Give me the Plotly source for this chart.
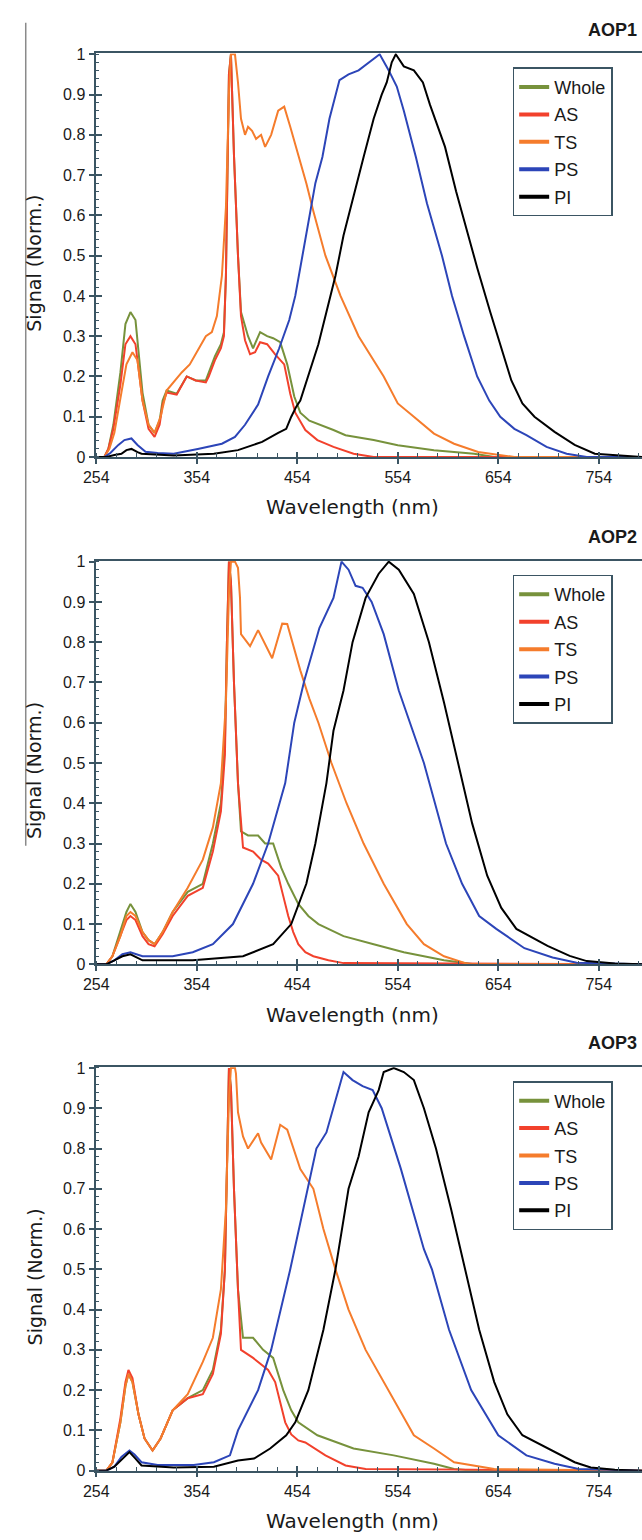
import plotly.graph_objects as go

# ---------------- data (wavelength nm, normalised signal) ----------------
# AOP1
AOP1_WHOLE_X = [254, 262, 266, 271, 278, 283, 288, 293, 300, 306, 312, 317, 320, 324, 334, 344, 353, 363, 366, 372, 378, 381, 383, 384, 386, 388, 391, 395, 398, 405, 410, 417, 424, 430, 437, 444, 451, 457, 466, 490, 502, 530, 554, 590, 630, 650, 797]
AOP1_WHOLE_Y = [0, 0, 0.02, 0.08, 0.21, 0.33, 0.36, 0.34, 0.16, 0.08, 0.06, 0.09, 0.14, 0.165, 0.157, 0.2, 0.19, 0.19, 0.21, 0.25, 0.28, 0.31, 0.45, 0.6, 0.95, 1.0, 0.75, 0.5, 0.36, 0.3, 0.27, 0.31, 0.3, 0.295, 0.285, 0.23, 0.15, 0.11, 0.09, 0.067, 0.054, 0.042, 0.029, 0.017, 0.008, 0.0, 0]
AOP1_AS_X = [254, 262, 266, 271, 278, 283, 288, 293, 300, 306, 312, 317, 320, 324, 334, 344, 353, 363, 366, 372, 378, 381, 383, 384, 386, 388, 391, 395, 398, 402, 407, 412, 417, 424, 432, 441, 447, 452, 462, 474, 490, 510, 530, 797]
AOP1_AS_Y = [0, 0, 0.02, 0.07, 0.18, 0.28, 0.30, 0.28, 0.14, 0.07, 0.05, 0.08, 0.13, 0.16, 0.155, 0.2, 0.19, 0.185, 0.2, 0.24, 0.27, 0.3, 0.45, 0.6, 0.95, 1.0, 0.75, 0.5, 0.35, 0.29, 0.255, 0.26, 0.285, 0.28, 0.255, 0.23, 0.157, 0.11, 0.067, 0.042, 0.025, 0.008, 0, 0]
AOP1_TS_X = [254, 262, 267, 272, 279, 284, 290, 295, 300, 306, 312, 318, 324, 332, 339, 347, 353, 363, 369, 374, 379, 383, 386, 388, 392, 395, 398, 402, 405, 409, 413, 418, 422, 428, 435, 441, 447, 455, 463, 470, 482, 497, 515, 540, 554, 570, 590, 610, 634, 670, 797]
AOP1_TS_Y = [0, 0, 0.02, 0.06, 0.16, 0.23, 0.26, 0.24, 0.14, 0.08, 0.06, 0.1, 0.165, 0.19, 0.21, 0.23, 0.255, 0.30, 0.31, 0.35, 0.45, 0.62, 0.9, 1.0, 1.0, 0.93, 0.84, 0.8, 0.82, 0.81, 0.79, 0.8, 0.77, 0.8, 0.86, 0.87, 0.82, 0.75, 0.68, 0.61, 0.5, 0.4, 0.3, 0.2, 0.133, 0.1, 0.058, 0.033, 0.0125, 0, 0]
AOP1_PS_X = [254, 262, 268, 276, 282, 289, 295, 303, 315, 331, 355, 370, 379, 392, 402, 415, 425, 436, 446, 452, 459, 466, 472, 479, 486, 496, 505, 515, 525, 536, 545, 553, 560, 572, 583, 598, 608, 620, 633, 645, 656, 670, 682, 702, 722, 742, 797]
AOP1_PS_Y = [0, 0, 0.01, 0.03, 0.042, 0.046, 0.03, 0.013, 0.01, 0.008, 0.02, 0.028, 0.033, 0.05, 0.08, 0.13, 0.2, 0.27, 0.34, 0.4, 0.5, 0.6, 0.68, 0.745, 0.84, 0.936, 0.95, 0.96, 0.98, 1.0, 0.96, 0.92, 0.86, 0.745, 0.63, 0.5, 0.4, 0.3, 0.2, 0.14, 0.1, 0.07, 0.054, 0.025, 0.008, 0, 0]
AOP1_PI_X = [254, 264, 272, 279, 284, 289, 295, 299, 331, 371, 395, 419, 435, 443, 448, 453, 457, 465, 475, 483, 492, 500, 510, 520, 530, 538, 543, 548, 552, 560, 570, 579, 586, 601, 612, 623, 633, 646, 657, 667, 678, 690, 710, 730, 750, 770, 797]
AOP1_PI_Y = [0, 0, 0.005, 0.008, 0.017, 0.02, 0.012, 0.008, 0.004, 0.008, 0.017, 0.0375, 0.06, 0.07, 0.1, 0.125, 0.14, 0.2, 0.28, 0.36, 0.45, 0.55, 0.65, 0.745, 0.84, 0.9, 0.93, 0.98, 1.0, 0.97, 0.96, 0.93, 0.875, 0.77, 0.66, 0.56, 0.47, 0.36, 0.27, 0.19, 0.133, 0.1, 0.0625, 0.03, 0.008, 0.004, 0]

# AOP2
AOP2_WHOLE_X = [254, 264, 270, 278, 284, 288, 293, 300, 306, 312, 320, 330, 345, 360, 370, 378, 382, 384, 386, 388, 391, 395, 398, 405, 415, 422, 430, 438, 445, 455, 465, 475, 500, 530, 560, 600, 630, 797]
AOP2_WHOLE_Y = [0, 0, 0.02, 0.08, 0.13, 0.15, 0.13, 0.08, 0.06, 0.05, 0.08, 0.13, 0.18, 0.2, 0.3, 0.4, 0.55, 0.8, 1.0, 0.95, 0.7, 0.45, 0.33, 0.32, 0.32, 0.3, 0.3, 0.24, 0.2, 0.15, 0.12, 0.1, 0.07, 0.05, 0.03, 0.01, 0.0, 0]
AOP2_AS_X = [254, 264, 270, 278, 284, 288, 293, 300, 306, 312, 320, 330, 345, 360, 370, 378, 382, 384, 386, 388, 391, 395, 400, 410, 418, 425, 435, 440, 445, 450, 455, 462, 470, 485, 500, 797]
AOP2_AS_Y = [0, 0, 0.02, 0.07, 0.11, 0.12, 0.11, 0.07, 0.05, 0.045, 0.075, 0.12, 0.17, 0.19, 0.28, 0.38, 0.52, 0.8, 1.0, 0.95, 0.7, 0.45, 0.29, 0.28, 0.26, 0.25, 0.22, 0.17, 0.12, 0.08, 0.05, 0.03, 0.02, 0.01, 0.003, 0]
AOP2_TS_X = [254, 264, 270, 278, 284, 288, 293, 300, 306, 312, 320, 330, 345, 360, 370, 378, 383, 386, 388, 392, 395, 397, 398, 407, 415, 421, 429, 439, 444, 457, 466, 475, 488, 503, 520, 540, 563, 580, 600, 625, 797]
AOP2_TS_Y = [0, 0, 0.02, 0.07, 0.12, 0.13, 0.12, 0.08, 0.06, 0.05, 0.08, 0.13, 0.19, 0.26, 0.34, 0.45, 0.65, 0.92, 1.0, 1.0, 0.985, 0.91, 0.82, 0.79, 0.83, 0.8, 0.76, 0.846, 0.845, 0.73, 0.66, 0.6, 0.5, 0.4, 0.3, 0.2, 0.1, 0.05, 0.02, 0, 0]
AOP2_PS_X = [254, 264, 272, 280, 288, 295, 300, 330, 350, 370, 390, 410, 425, 442, 451, 461, 476, 490, 498, 505, 512, 519, 528, 540, 555, 580, 602, 618, 635, 652, 680, 708, 732, 797]
AOP2_PS_Y = [0, 0, 0.01, 0.025, 0.03, 0.025, 0.02, 0.02, 0.03, 0.05, 0.1, 0.2, 0.3, 0.45, 0.6, 0.705, 0.835, 0.91, 1.0, 0.98, 0.94, 0.935, 0.9, 0.82, 0.68, 0.5, 0.3, 0.2, 0.12, 0.088, 0.04, 0.017, 0.004, 0]
AOP2_PI_X = [254, 264, 272, 280, 288, 295, 300, 350, 400, 430, 448, 463, 472, 483, 490, 500, 509, 522, 535, 545, 555, 570, 585, 600, 614, 628, 643, 657, 672, 703, 725, 742, 770, 797]
AOP2_PI_Y = [0, 0, 0.01, 0.02, 0.025, 0.015, 0.01, 0.01, 0.02, 0.05, 0.1, 0.2, 0.3, 0.45, 0.58, 0.68, 0.8, 0.91, 0.97, 1.0, 0.98, 0.92, 0.8, 0.65, 0.5, 0.35, 0.22, 0.14, 0.088, 0.046, 0.021, 0.008, 0.002, 0]

# AOP3
AOP3_WHOLE_X = [254, 264, 270, 278, 283, 286, 290, 296, 302, 310, 318, 330, 345, 360, 370, 378, 382, 384, 386, 388, 391, 395, 400, 410, 420, 430, 440, 448, 455, 474, 510, 550, 590, 610, 630, 797]
AOP3_WHOLE_Y = [0, 0, 0.02, 0.12, 0.21, 0.24, 0.22, 0.14, 0.08, 0.05, 0.08, 0.15, 0.18, 0.2, 0.25, 0.35, 0.5, 0.8, 1.0, 0.95, 0.7, 0.45, 0.33, 0.33, 0.3, 0.28, 0.2, 0.15, 0.12, 0.088, 0.055, 0.038, 0.017, 0.004, 0.0, 0]
AOP3_AS_X = [254, 264, 270, 278, 283, 286, 290, 296, 302, 310, 318, 330, 345, 360, 370, 378, 382, 384, 386, 388, 391, 395, 398, 410, 425, 432, 437, 442, 448, 455, 462, 482, 502, 522, 797]
AOP3_AS_Y = [0, 0, 0.02, 0.13, 0.22, 0.25, 0.23, 0.14, 0.08, 0.05, 0.08, 0.15, 0.18, 0.19, 0.24, 0.34, 0.5, 0.8, 1.0, 0.95, 0.7, 0.45, 0.3, 0.28, 0.25, 0.22, 0.17, 0.12, 0.09, 0.075, 0.07, 0.038, 0.013, 0.004, 0]
AOP3_TS_X = [254, 264, 270, 278, 283, 286, 290, 296, 302, 310, 318, 330, 345, 360, 370, 378, 383, 386, 388, 392, 393, 395, 400, 405, 415, 418, 428, 437, 444, 457, 470, 480, 492, 505, 522, 545, 570, 590, 610, 650, 797]
AOP3_TS_Y = [0, 0, 0.02, 0.12, 0.21, 0.24, 0.22, 0.14, 0.08, 0.05, 0.08, 0.15, 0.19, 0.27, 0.33, 0.45, 0.65, 0.92, 1.0, 1.0, 0.986, 0.89, 0.83, 0.8, 0.838, 0.815, 0.773, 0.859, 0.847, 0.749, 0.70, 0.6, 0.5, 0.4, 0.3, 0.2, 0.088, 0.055, 0.021, 0.004, 0]
AOP3_PS_X = [254, 264, 272, 279, 287, 292, 299, 315, 351, 371, 387, 391, 395, 415, 428, 447, 464, 473, 483, 490, 500, 509, 519, 529, 538, 557, 580, 588, 605, 627, 654, 682, 710, 734, 797]
AOP3_PS_Y = [0, 0, 0.01, 0.034, 0.05, 0.04, 0.021, 0.014, 0.014, 0.021, 0.038, 0.07, 0.1, 0.2, 0.3, 0.5, 0.70, 0.80, 0.84, 0.9, 0.99, 0.97, 0.955, 0.945, 0.9, 0.75, 0.55, 0.5, 0.35, 0.2, 0.088, 0.038, 0.017, 0.004, 0]
AOP3_PI_X = [254, 264, 272, 280, 287, 293, 299, 331, 371, 395, 411, 427, 443, 452, 465, 480, 492, 505, 515, 525, 535, 540, 550, 560, 570, 580, 592, 607, 621, 635, 650, 663, 678, 710, 730, 746, 770, 797]
AOP3_PI_Y = [0, 0, 0.01, 0.03, 0.046, 0.03, 0.013, 0.008, 0.01, 0.025, 0.03, 0.055, 0.088, 0.12, 0.2, 0.35, 0.5, 0.7, 0.78, 0.89, 0.945, 0.99, 1.0, 0.99, 0.97, 0.9, 0.8, 0.65, 0.5, 0.35, 0.22, 0.14, 0.088, 0.046, 0.021, 0.008, 0.002, 0]

SERIES_NAMES = ["Whole", "AS", "TS", "PS", "PI"]
SERIES_COLORS = ["#77923c", "#f2412c", "#f57c2c", "#2c45b8", "#000000"]
PANEL_TITLES = ["AOP1", "AOP2", "AOP3"]

PANELS = [
    [(AOP1_WHOLE_X, AOP1_WHOLE_Y), (AOP1_AS_X, AOP1_AS_Y), (AOP1_TS_X, AOP1_TS_Y), (AOP1_PS_X, AOP1_PS_Y), (AOP1_PI_X, AOP1_PI_Y)],
    [(AOP2_WHOLE_X, AOP2_WHOLE_Y), (AOP2_AS_X, AOP2_AS_Y), (AOP2_TS_X, AOP2_TS_Y), (AOP2_PS_X, AOP2_PS_Y), (AOP2_PI_X, AOP2_PI_Y)],
    [(AOP3_WHOLE_X, AOP3_WHOLE_Y), (AOP3_AS_X, AOP3_AS_Y), (AOP3_TS_X, AOP3_TS_Y), (AOP3_PS_X, AOP3_PS_Y), (AOP3_PI_X, AOP3_PI_Y)],
]

# ---------------- layout geometry (pixels) ----------------
W, H = 642, 1540
PLOT_L = 85
PANEL_TOP = [46, 559, 1071]
PANEL_H = 408
AX = "#3b5563"
TXT = "#1a1a1a"
FONT = "Liberation Sans, Arial, sans-serif"

fig = go.Figure()
layout = dict(
    width=W, height=H, margin=dict(l=0, r=0, t=0, b=0),
    paper_bgcolor="white", plot_bgcolor="white", showlegend=True,
    font=dict(family=FONT, color=TXT),
)
annotations = []
shapes = []

for i in range(3):
    n = i + 1
    no = i + 4
    top = PANEL_TOP[i]
    bot = top + PANEL_H
    ydom = [1 - bot / H, 1 - top / H]
    xdom = [PLOT_L / W, 1.0]
    xs = "" if n == 1 else str(n)
    legname = "legend" if n == 1 else f"legend{n}"

    for k, (xv, yv) in enumerate(PANELS[i]):
        fig.add_trace(go.Scatter(
            x=xv, y=yv, mode="lines", name=SERIES_NAMES[k],
            line=dict(color=SERIES_COLORS[k], width=2),
            xaxis=f"x{xs}", yaxis=f"y{xs}", showlegend=False,
        ))
    for k in range(5):
        fig.add_trace(go.Scatter(
            x=[None], y=[None], mode="lines", name=SERIES_NAMES[k],
            line=dict(color=SERIES_COLORS[k], width=4),
            xaxis=f"x{xs}", yaxis=f"y{xs}", showlegend=True,
            legend=legname, legendgroup=f"p{n}s{k}",
        ))
    fig.add_trace(go.Scatter(x=[None], y=[None], mode="lines", showlegend=False,
                             xaxis=f"x{no}", yaxis=f"y{no}", hoverinfo="skip"))

    layout[f"xaxis{xs}"] = dict(
        domain=xdom, range=[254, 797], anchor=f"y{xs}",
        tick0=254, dtick=100, ticks="outside", ticklen=5, tickwidth=1.5, tickcolor=AX,
        minor=dict(dtick=20, tick0=254, ticks="inside", ticklen=4, tickwidth=1, tickcolor=AX),
        showline=True, linecolor=AX, linewidth=1.5, mirror=True,
        showgrid=False, zeroline=False,
        tickfont=dict(size=16, family=FONT, color=TXT),
    )
    layout[f"yaxis{xs}"] = dict(
        domain=ydom, range=[0, 1.002], anchor=f"x{xs}",
        tick0=0, dtick=0.1, ticks="outside", ticklen=6, tickwidth=1.5, tickcolor=AX,
        minor=dict(dtick=0.02, ticks="inside", ticklen=3, tickwidth=1, tickcolor=AX),
        showline=True, linecolor=AX, linewidth=1.5,
        showgrid=False, zeroline=False,
        tickfont=dict(size=16, family=FONT, color=TXT),
    )
    layout[f"xaxis{no}"] = dict(
        domain=xdom, range=[254, 797], overlaying=f"x{xs}", anchor=f"y{xs}",
        tick0=254, dtick=100, ticks="inside", ticklen=5, tickwidth=1.5, tickcolor=AX,
        showticklabels=False, showline=False, showgrid=False, zeroline=False,
    )
    layout[f"yaxis{no}"] = dict(
        domain=ydom, range=[0, 1.002], overlaying=f"y{xs}", anchor=f"x{xs}",
        tick0=0, dtick=0.1, ticks="inside", ticklen=6, tickwidth=1.5, tickcolor=AX,
        showticklabels=False, showline=False, showgrid=False, zeroline=False,
    )
    layout[legname] = dict(
        x=510 / W, xanchor="left", y=1 - (top + 14) / H, yanchor="top",
        bgcolor="white", bordercolor=AX, borderwidth=1.5,
        font=dict(size=18, family=FONT, color=TXT),
        traceorder="grouped", tracegroupgap=1, itemwidth=30,
    )
    annotations.append(dict(
        text="Signal (Norm.)", xref="paper", yref="paper",
        x=22 / W, y=1 - (top + PANEL_H / 2 + 8) / H, textangle=-90,
        showarrow=False, font=dict(size=19, family="DejaVu Sans, sans-serif", color=TXT),
        xanchor="center", yanchor="middle",
    ))
    annotations.append(dict(
        text="Wavelength (nm)", xref="paper", yref="paper",
        x=347 / W, y=1 - (bot + 51) / H,
        showarrow=False, font=dict(size=20, family="DejaVu Sans, sans-serif", color=TXT),
        xanchor="center", yanchor="middle",
    ))
    annotations.append(dict(
        text=f"<b>{PANEL_TITLES[i]}</b>", xref="paper", yref="paper",
        x=612 / W, y=1 - (top - 24) / H,
        showarrow=False, font=dict(size=18, family=FONT, color=TXT),
        xanchor="center", yanchor="middle",
    ))

shapes.append(dict(type="line", xref="paper", yref="paper",
                   x0=13 / W, x1=13 / W, y0=1 - 847 / H, y1=1 - 15 / H,
                   line=dict(color="#8a8a8a", width=1.5)))

layout["annotations"] = annotations
layout["shapes"] = shapes
fig.update_layout(**layout)
fig.write_html("out.html", config={"displayModeBar": False},
               post_script="document.body.style.margin='0';document.body.style.overflow='hidden';")
